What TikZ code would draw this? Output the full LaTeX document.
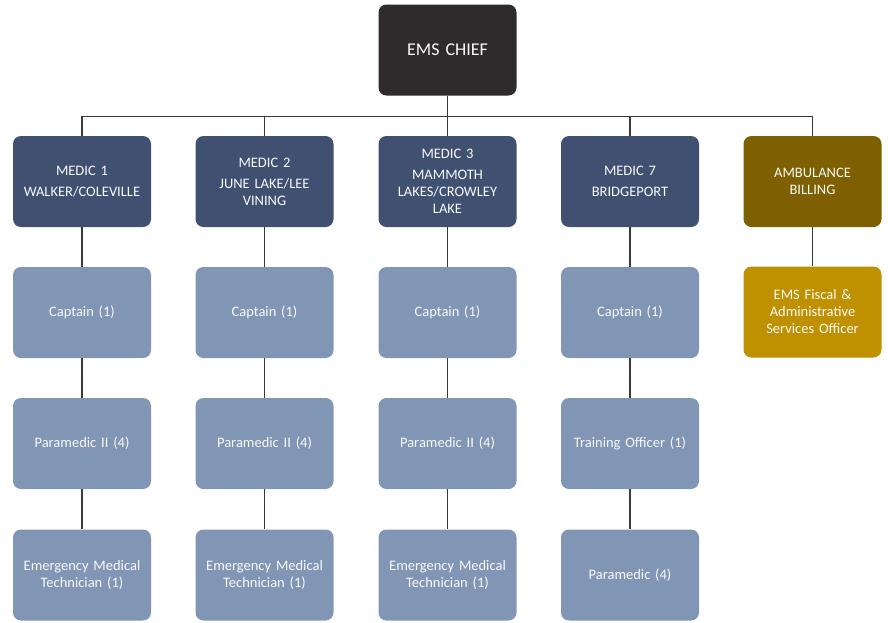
\documentclass[tikz,border=0pt]{standalone}
\usepackage{fontspec}
\setmainfont{Carlito}
\definecolor{chiefc}{HTML}{2F2B2C}
\definecolor{medicc}{HTML}{3F5070}
\definecolor{staffc}{HTML}{8195B5}
\definecolor{billc}{HTML}{7F6000}
\definecolor{fiscc}{HTML}{BF9000}
\definecolor{linkc}{HTML}{3A3A3A}
\tikzset{
  unitbox/.style={rounded corners=8pt, minimum width=138pt, minimum height=91pt,
    text width=134pt, align=center, inner sep=0pt, text=white!95!gray,
    font=\fontsize{14.5}{17}\selectfont},
  chiefbox/.style={unitbox, fill=chiefc, font=\fontsize{18}{21}\selectfont},
  medicbox/.style={unitbox, fill=medicc},
  staffbox/.style={unitbox, fill=staffc},
  billbox/.style={unitbox, fill=billc},
  fiscbox/.style={unitbox, fill=fiscc},
  link/.style={draw=linkc, line width=1.5pt}
}
\begin{document}
\begin{tikzpicture}[x=1pt, y=-1pt]
\useasboundingbox (0,0) rectangle (888,622);
% top of the organisation
\node[chiefbox] (chief) at (447.5,50) {EMS CHIEF};
% stations and billing
\node[medicbox] (m1) at (82,181.5) {MEDIC 1\\[4pt]WALKER/COLEVILLE};
\node[medicbox] (m2) at (264.5,181.5) {MEDIC 2\\[4pt]JUNE LAKE/LEE\\VINING};
\node[medicbox] (m3) at (447.5,181.5) {MEDIC 3\\[4pt]MAMMOTH\\LAKES/CROWLEY\\LAKE};
\node[medicbox] (m7) at (630,181.5) {MEDIC 7\\[4pt]BRIDGEPORT};
\node[billbox] (ab) at (812.5,181.5) {AMBULANCE\\BILLING};
% captains
\node[staffbox] (c1) at (82,312.5) {Captain (1)};
\node[staffbox] (c2) at (264.5,312.5) {Captain (1)};
\node[staffbox] (c3) at (447.5,312.5) {Captain (1)};
\node[staffbox] (c7) at (630,312.5) {Captain (1)};
\node[fiscbox] (fo) at (812.5,312) {EMS Fiscal \&\\Administrative\\Services Officer};
% third level
\node[staffbox] (p1) at (82,443.5) {Paramedic II (4)};
\node[staffbox] (p2) at (264.5,443.5) {Paramedic II (4)};
\node[staffbox] (p3) at (447.5,443.5) {Paramedic II (4)};
\node[staffbox] (t7) at (630,443.5) {Training Officer (1)};
% fourth level
\node[staffbox] (e1) at (82,575) {Emergency Medical\\Technician (1)};
\node[staffbox] (e2) at (264.5,575) {Emergency Medical\\Technician (1)};
\node[staffbox] (e3) at (447.5,575) {Emergency Medical\\Technician (1)};
\node[staffbox] (p7) at (630,575) {Paramedic (4)};
% connectors
\draw[link] (chief.south) -- ++(0,21) coordinate (bus);
\foreach \n in {m1,m2,m3,m7,ab}{
  \draw[link] (bus) -| (\n.north);
}
\foreach \a/\b in {m1/c1,c1/p1,p1/e1,m2/c2,c2/p2,p2/e2,m3/c3,c3/p3,p3/e3,m7/c7,c7/t7,t7/p7,ab/fo}{
  \draw[link] (\a.south) -- (\b.north);
}
\end{tikzpicture}
\end{document}
